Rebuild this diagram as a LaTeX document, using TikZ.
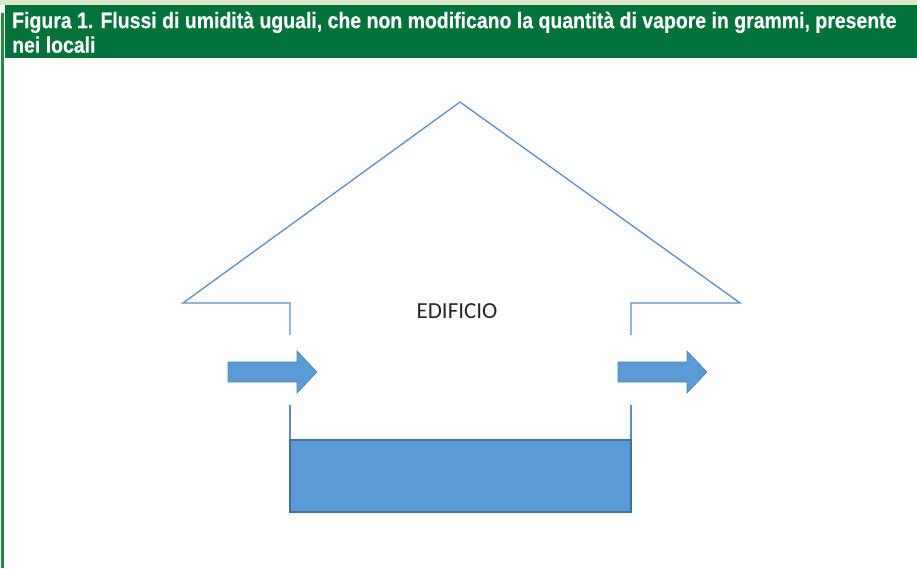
\documentclass[tikz,border=0pt]{standalone}
\usepackage{fontspec}
\setmainfont{Liberation Sans}
\newfontfamily\titlefont[FakeStretch=0.865,FakeBold=0.4]{Liberation Sans Bold}
\newfontfamily\labelfont{Carlito}
\usetikzlibrary{positioning}

\definecolor{barGreen}{HTML}{00723A}
\definecolor{edgeGreen}{HTML}{1F8B45}
\definecolor{paleGreen}{HTML}{DDE8C8}
\definecolor{wallBlue}{HTML}{5B8EC4}
\definecolor{fillBlue}{HTML}{5B9BD5}
\definecolor{lineBlue}{HTML}{41719C}

\tikzset{
  wall/.style={draw=wallBlue,line width=1.3pt},
  flow/.style={fill=fillBlue,draw=lineBlue!60!fillBlue,line width=0.6pt},
  caption/.style={anchor=north west,inner sep=0pt,text=white,align=left,
    font=\titlefont\fontsize{22.5}{24.5}\selectfont},
}

\begin{document}
\begin{tikzpicture}[x=1pt,y=-1pt]
  \useasboundingbox (0,0) rectangle (917,568);

  % frame and title bar
  \fill[paleGreen] (0,0) rectangle (917,5);
  \fill[barGreen] (5,5) rectangle (917,58);
  \fill[edgeGreen] (1,13) rectangle (4,568);
  \node[caption] (title) at (12,11.5)
    {Figura 1. Flussi di umidità uguali, che non modificano la quantità di vapore in grammi, presente\\nei locali};

  % roof and upper walls
  \draw[wall,line join=miter] (290,335) -- (290,303) -- (183,303) -- (460,102)
    -- (740,303) -- (631,303) -- (631,335);

  % lower walls
  \draw[wall] (290,405) -- (290,440);
  \draw[wall] (631,405) -- (631,440);

  % basin
  \draw[fill=fillBlue,draw=lineBlue,line width=1.2pt] (290,440) rectangle (631,512);

  \node[font=\labelfont\fontsize{23}{25}\selectfont,text=black!85] (edificio) at (457,311) {EDIFICIO};

  % humidity flows
  \foreach \x in {228,618} {
    \draw[flow] (\x,362) -- (\x+69,362) -- (\x+69,351) -- (\x+89,372)
      -- (\x+69,393) -- (\x+69,382) -- (\x,382) -- cycle;
  }
\end{tikzpicture}
\end{document}
